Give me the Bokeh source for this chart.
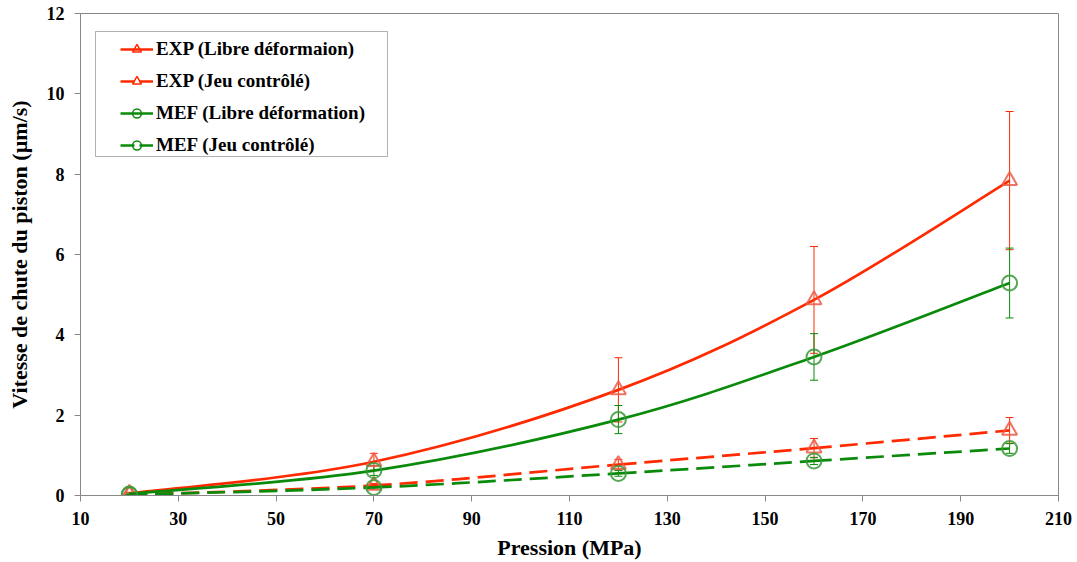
import numpy as np
from bokeh.plotting import figure
from bokeh.models import (ColumnDataSource, Whisker, Legend, LegendItem, FixedTicker,
                          Range1d, BoxAnnotation)
from bokeh.embed import file_html
from bokeh.resources import INLINE

pression = [20, 70, 120, 160, 200]

exp_libre = [0.05, 0.84, 2.63, 4.87, 7.84]
exp_libre_err = [0.03, 0.21, 0.80, 1.33, 1.72]
exp_jeu = [0.02, 0.25, 0.77, 1.18, 1.62]
exp_jeu_err = [0.01, 0.05, 0.13, 0.24, 0.32]

mef_libre = [0.04, 0.62, 1.89, 3.45, 5.29]
mef_libre_err = [0.02, 0.12, 0.35, 0.58, 0.87]
mef_jeu = [0.02, 0.20, 0.55, 0.86, 1.17]
mef_jeu_err = [0.01, 0.04, 0.07, 0.09, 0.12]

labels = ["EXP (Libre déformaion)", "EXP (Jeu contrôlé)",
          "MEF (Libre déformation)", "MEF (Jeu contrôlé)"]

x_ticks = list(range(10, 211, 20))
y_ticks = list(range(0, 13, 2))

RED = "#ff2a00"
GREEN = "#0a8a0a"
RED_M = "#ee5a48"
GREEN_M = "#3a9a3a"
FONT = "Liberation Serif"
DASH = "18 8"

p = figure(width=1077, height=562, output_backend="svg", toolbar_location=None,
           x_range=Range1d(10, 210), y_range=Range1d(0, 12),
           min_border_left=80, min_border_top=13, min_border_right=19, min_border_bottom=67)
p.grid.visible = False
p.outline_line_color = "#888888"
p.outline_line_width = 1

for ax in (p.xaxis[0], p.yaxis[0]):
    ax.axis_line_color = "#888888"
    ax.major_tick_line_color = "#888888"
    ax.minor_tick_line_color = None
    ax.major_tick_out = 6
    ax.major_tick_in = 0
    ax.major_label_text_font = FONT
    ax.major_label_text_font_style = "bold"
    ax.major_label_text_font_size = "18px"
    ax.major_label_text_color = "black"
    ax.axis_label_text_font = FONT
    ax.axis_label_text_font_style = "bold"
    ax.axis_label_text_font_size = "22px"
    ax.axis_label_text_color = "black"

p.xaxis.ticker = FixedTicker(ticks=x_ticks)
p.yaxis.ticker = FixedTicker(ticks=y_ticks)
p.xaxis.axis_label = "Pression (MPa)"
p.yaxis.axis_label = "Vitesse de chute du piston (µm/s)"
p.xaxis.major_label_standoff = 10
p.xaxis.axis_label_standoff = 7
p.yaxis.major_label_standoff = 10
p.yaxis.axis_label_standoff = 12


def smooth(xs, ys):
    xs = np.asarray(xs, float)
    ys = np.asarray(ys, float)
    n = len(xs)
    px = np.concatenate([[xs[0]], xs, [xs[-1]]])
    py = np.concatenate([[ys[0]], ys, [ys[-1]]])
    d = dict(x0=[], y0=[], x1=[], y1=[], cx0=[], cy0=[], cx1=[], cy1=[])
    for i in range(n - 1):
        j = i + 1
        d["x0"].append(px[j]); d["y0"].append(py[j])
        d["x1"].append(px[j + 1]); d["y1"].append(py[j + 1])
        d["cx0"].append(px[j] + (px[j + 1] - px[j - 1]) / 6)
        d["cy0"].append(py[j] + (py[j + 1] - py[j - 1]) / 6)
        d["cx1"].append(px[j + 1] - (px[j + 2] - px[j]) / 6)
        d["cy1"].append(py[j + 1] - (py[j + 2] - py[j]) / 6)
    return ColumnDataSource(d)


series = [
    (exp_libre, exp_libre_err, RED, RED_M, "solid", "triangle"),
    (exp_jeu, exp_jeu_err, RED, RED_M, DASH, "triangle"),
    (mef_libre, mef_libre_err, GREEN, GREEN_M, "solid", "circle"),
    (mef_jeu, mef_jeu_err, GREEN, GREEN_M, DASH, "circle"),
]

leg_items = []
for (ys, errs, col, mcol, dash, mk), lab in zip(series, labels):
    src = ColumnDataSource(dict(x=pression, y=ys,
                                lo=[a - b for a, b in zip(ys, errs)],
                                hi=[a + b for a, b in zip(ys, errs)]))
    w = Whisker(source=src, base="x", lower="lo", upper="hi",
                line_color=col, line_width=1)
    for h in (w.upper_head, w.lower_head):
        h.line_color = col
        h.size = 8
        h.line_width = 1
    p.add_layout(w)
    bsrc = smooth(pression, ys)
    p.bezier(x0="x0", y0="y0", x1="x1", y1="y1", cx0="cx0", cy0="cy0",
             cx1="cx1", cy1="cy1", source=bsrc, line_color=col, line_width=2.7,
             line_dash=dash)
    p.scatter(x="x", y="y", source=src, marker=mk, size=15,
              fill_color=None, line_color=mcol, line_width=2, line_alpha=0.85)
    # legend-only glyphs, kept outside the visible range
    l2 = p.line(x=[-100, -99], y=[-100, -99], line_color=col, line_width=2.5,
                line_dash="14 5" if dash != "solid" else "solid")
    m2 = p.scatter(x=[-100], y=[-100], marker=mk, size=11, fill_color=None,
                   line_color=col, line_width=1.5)
    leg_items.append(LegendItem(label=lab, renderers=[l2, m2]))

box = BoxAnnotation(left=15, right=307, bottom=339, top=464,
                    left_units="screen", right_units="screen",
                    bottom_units="screen", top_units="screen",
                    fill_color="white", fill_alpha=1,
                    line_color="black", line_width=1, level="annotation")
p.add_layout(box)

legend = Legend(items=leg_items, location=(40, 339))
legend.border_line_color = None
legend.background_fill_alpha = 0
legend.label_text_font = FONT
legend.label_text_font_style = "bold"
legend.label_text_font_size = "19px"
legend.label_text_color = "black"
legend.glyph_width = 33
legend.glyph_height = 22
legend.label_height = 22
legend.spacing = 10
legend.padding = 4
legend.margin = 0
legend.label_standoff = 3
p.add_layout(legend, "center")

open("out.html", "w").write(file_html(p, INLINE))
